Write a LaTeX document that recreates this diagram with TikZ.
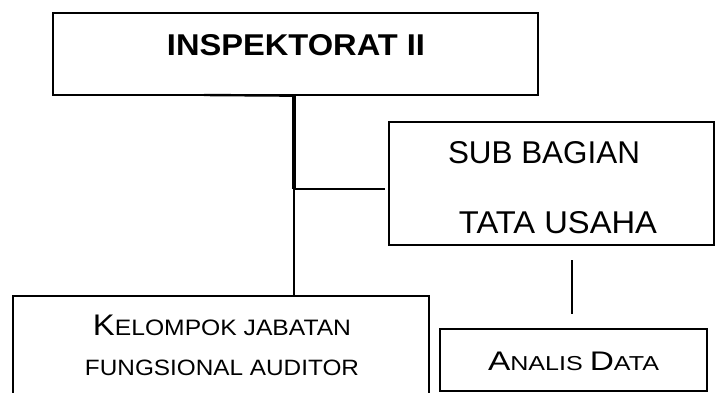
\documentclass[tikz,border=0pt]{standalone}
\usepackage{fontspec}
\setmainfont{Liberation Sans}
\usepackage{graphicx}
\newcommand\bigsz[1]{{\fontsize{28}{28}\selectfont #1}}
\newcommand\smsz[1]{{\fontsize{21}{21}\selectfont #1}}
\begin{document}
\begin{tikzpicture}[x=1pt,y=-1pt,
  boxnode/.style={draw=black,line width=1.3pt,rectangle,inner sep=0pt},
  txt/.style={inner sep=0pt,anchor=center},
  conn/.style={draw=black,line width=1.6pt}]
\useasboundingbox (0,0) rectangle (715,392);
\fill[white] (0,0) rectangle (715,392);
% boxes
\node[boxnode,minimum width=485pt,minimum height=82pt] (insp) at (295.5,54) {};
\node[boxnode,minimum width=325pt,minimum height=123pt] (sub) at (551.5,183.5) {};
\node[boxnode,minimum width=416pt,minimum height=104pt] (kel) at (221,348) {};
\node[boxnode,minimum width=267pt,minimum height=62pt] (ana) at (573.5,360) {};
% texts
\node[txt] (t1) at (296,45) {\resizebox{258pt}{21pt}{\bfseries INSPEKTORAT II}};
\node[txt] (t2) at (544,152.5) {\resizebox{192pt}{22pt}{SUB BAGIAN}};
\node[txt] (t3) at (558,222.5) {\resizebox{198pt}{22pt}{TATA USAHA}};
\node[txt] (t4) at (222,325) {\resizebox{258pt}{20.5pt}{\bigsz{K}\smsz{ELOMPOK JABATAN}}};
\node[txt] (t5) at (222,367.5) {\resizebox{274pt}{15.5pt}{\smsz{FUNGSIONAL AUDITOR}}};
\node[txt] (t6) at (573.5,361) {\resizebox{171pt}{18.5pt}{\bigsz{A}\smsz{NALIS }\bigsz{D}\smsz{ATA}}};
% connectors
\coordinate (j) at (294,189);
\coordinate (jl) at (204,95);
\coordinate (v1) at (572,260);
\coordinate (v2) at (572,314);
\draw[line width=2.4pt] (jl) -- (insp.south -| j);
\draw[line width=3.2pt] (insp.south -| j) -- (j);
\draw[line width=2.6pt] (j) -- (kel.north -| j);
\draw[conn] (j) -- ([xshift=-3pt]sub.west |- j);
\draw[conn] (v1) -- (v2);
\end{tikzpicture}
\end{document}
